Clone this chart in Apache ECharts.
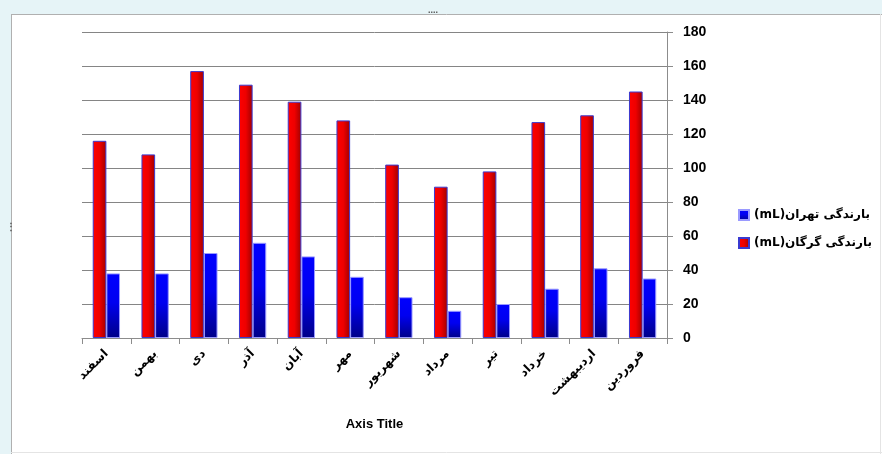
<!DOCTYPE html>
<html>
<head>
<meta charset="utf-8">
<script src="https://cdn.jsdelivr.net/npm/echarts@6/dist/echarts.min.js"></script>
<style>html,body{margin:0;padding:0;background:#fff}#c{width:882px;height:454px}</style>
</head>
<body>
<div id="c"></div>
<script>
var categories = ['اسفند','بهمن','دی','آذر','آبان','مهر','شهریور','مرداد','تیر','خرداد','اردیبهشت','فروردین'];
var gorganValues = [116,108,157,149,139,128,102,89,98,127,131,145];
var tehranValues = [38,38,50,56,48,36,24,16,20,29,41,35];
var gorganName = '(mL)بارندگی گرگان';
var tehranName = '(mL)بارندگی تهران';
var yTicks = {min:0, max:180, interval:20};

var chart = echarts.init(document.getElementById('c'), null, {renderer:'canvas'});
var redGrad = new echarts.graphic.LinearGradient(0,0,1,0,[
  {offset:0,color:'#ff0000'},{offset:0.5,color:'#ee0000'},{offset:1,color:'#a00000'}]);
var blueGrad = new echarts.graphic.LinearGradient(0,0,0,1,[
  {offset:0,color:'#0000ff'},{offset:0.45,color:'#0000f0'},{offset:1,color:'#000088'}]);
chart.setOption({
  animation:false,
  backgroundColor:'#ffffff',
  graphic:[
    {type:'rect',shape:{x:0,y:0,width:882,height:14},style:{fill:'#e6f4f7'},silent:true},
    {type:'rect',shape:{x:0,y:0,width:11,height:454},style:{fill:'#e6f4f7'},silent:true},
    {type:'line',shape:{x1:11,y1:14.5,x2:882,y2:14.5},style:{stroke:'#b0b0b0',lineWidth:1},silent:true},
    {type:'line',shape:{x1:11.5,y1:14,x2:11.5,y2:454},style:{stroke:'#b0b0b0',lineWidth:1},silent:true},
    {type:'line',shape:{x1:11,y1:452.5,x2:882,y2:452.5},style:{stroke:'#e4e4e4',lineWidth:1},silent:true},
    {type:'line',shape:{x1:880.5,y1:14,x2:880.5,y2:454},style:{stroke:'#e4e4e4',lineWidth:1},silent:true},
    {type:'text',left:428,top:6,style:{text:'....',fill:'#555',font:'bold 9px sans-serif'},silent:true},
    {type:'text',left:6,top:222,style:{text:'⋮',fill:'#555',font:'bold 10px sans-serif'},silent:true}
  ],
  grid:{left:82,right:215,top:32,bottom:116,containLabel:false},
  legend:{
    orient:'vertical', left:738, top:209, padding:0, itemGap:16, itemWidth:10, itemHeight:10,
    data:[tehranName,gorganName],
    textStyle:{fontFamily:'DejaVu Sans',fontWeight:'bold',fontSize:12,color:'#000'},
    icon:'rect'
  },
  xAxis:{
    type:'category', data:categories,
    axisLine:{lineStyle:{color:'#8c8c8c',width:1}},
    axisTick:{show:true,length:6,lineStyle:{color:'#8c8c8c'}},
    axisLabel:{rotate:45,margin:14,interval:0,fontFamily:'DejaVu Sans',fontWeight:'bold',fontSize:12,color:'#000'},
    name:'Axis Title', nameLocation:'middle', nameGap:80,
    nameTextStyle:{fontFamily:'Liberation Sans',fontWeight:'bold',fontSize:13,color:'#000'}
  },
  yAxis:{
    type:'value', position:'right', min:yTicks.min, max:yTicks.max, interval:yTicks.interval,
    axisLine:{show:true,lineStyle:{color:'#8c8c8c',width:1}},
    axisTick:{show:true,length:6,lineStyle:{color:'#8c8c8c'}},
    axisLabel:{margin:16,fontFamily:'Liberation Sans',fontWeight:'bold',fontSize:14,color:'#000'},
    splitLine:{show:true,lineStyle:{color:'#858585',width:1}}
  },
  series:[
    {name:gorganName,type:'bar',data:gorganValues,barWidth:'28%',barGap:'0%',
     itemStyle:{color:redGrad,borderColor:'#3a3ad0',borderWidth:1}},
    {name:tehranName,type:'bar',data:tehranValues,barWidth:'28%',barGap:'0%',
     itemStyle:{color:blueGrad,borderColor:'#9a9aff',borderWidth:1}}
  ]
});
</script>
</body>
</html>
